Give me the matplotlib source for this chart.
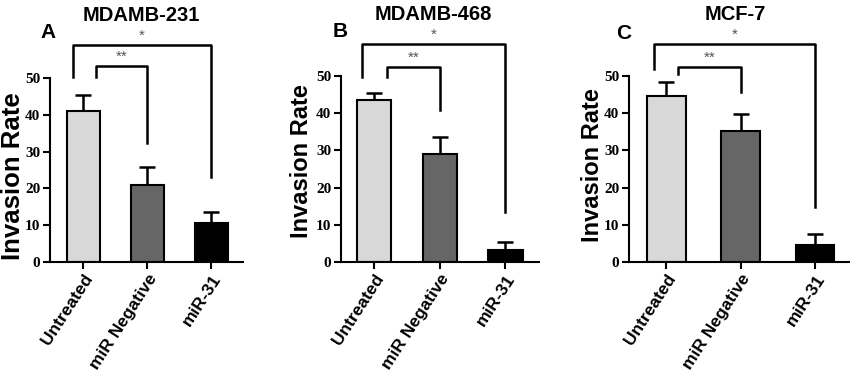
import matplotlib.pyplot as plt
import numpy as np

plt.rcParams['font.family'] = 'Liberation Sans'

groups = ['Untreated', 'miR Negative', 'miR-31']
colors = ['#d8d8d8', '#666666', '#000000']

titles = ['MDAMB-231', 'MDAMB-468', 'MCF-7']
letters = ['A', 'B', 'C']

## means and upper error (SD) per cell line
means_a = [41.0, 21.0, 10.7]
err_a = [4.3, 4.7, 2.9]
means_b = [43.5, 29.0, 3.2]
err_b = [2.0, 4.6, 2.1]
means_c = [44.6, 35.3, 4.5]
err_c = [3.7, 4.5, 3.0]

## significance brackets: (x1, x2, top, left end, right end, label)
brk_a = [(0.2, 1.0, 53.3, 50.3, 32.3, '**'), (-0.16, 2.0, 59.0, 50.3, 23.1, '*')]
brk_b = [(0.19, 1.0, 52.5, 49.7, 40.9, '**'), (-0.18, 2.0, 58.6, 49.7, 13.4, '*')]
brk_c = [(0.16, 1.0, 52.5, 50.5, 45.7, '**'), (-0.17, 2.0, 58.6, 52.0, 14.8, '*')]

means = [means_a, means_b, means_c]
errs = [err_a, err_b, err_c]
brks = [brk_a, brk_b, brk_c]

# axes boxes in figure fraction [left, bottom, width, height]
boxes = [[0.059, 0.307, 0.227, 0.487],
         [0.401, 0.307, 0.233, 0.492],
         [0.740, 0.307, 0.260, 0.492]]
xlims = [(-0.52, 2.5), (-0.51, 2.51), (-0.5, 2.47)]
# text placement in axes fraction
letter_xy = [(-0.05, 1.245), (-0.04, 1.24), (-0.06, 1.23)]
title_xy = [(0.47, 1.34), (0.465, 1.33), (0.48, 1.33)]
ylab_xy = [(-0.19, 0.467), (-0.197, 0.543), (-0.167, 0.52)]
ylab_size = [18.5, 17, 17]

fig = plt.figure(figsize=(8.5, 3.78), dpi=100)

for i in range(3):
    ax = fig.add_axes(boxes[i])
    x = np.arange(3)
    ax.bar(x, means[i], width=0.52, color=colors, edgecolor='black', linewidth=1.5, zorder=2)
    ax.errorbar(x, means[i], yerr=[np.zeros(3), errs[i]], fmt='none', ecolor='black',
                elinewidth=1.8, capsize=6, capthick=1.8, zorder=1)
    ax.set_xlim(*xlims[i])
    ax.set_ylim(0, 50)
    ax.set_yticks([0, 10, 20, 30, 40, 50])
    ax.set_yticklabels([str(v) for v in [0, 10, 20, 30, 40, 50]],
                       fontfamily='Liberation Serif', fontweight='bold', fontsize=11)
    ax.set_xticks(x)
    ax.set_xticklabels(groups, rotation=57, ha='right', rotation_mode='anchor',
                       fontweight='bold', fontsize=12.5)
    ax.tick_params(axis='both', direction='out', length=5, width=1.5, pad=2)
    ax.spines['top'].set_visible(False)
    ax.spines['right'].set_visible(False)
    ax.spines['left'].set_linewidth(1.5)
    ax.spines['bottom'].set_linewidth(1.5)
    ax.text(ylab_xy[i][0], ylab_xy[i][1], 'Invasion Rate', transform=ax.transAxes,
            rotation=90, ha='center', va='center', fontsize=ylab_size[i], fontweight='bold')

    for x1, x2, top, ly, ry, lab in brks[i]:
        ax.plot([x1, x1, x2, x2], [ly, top, top, ry], color='black', lw=1.8,
                clip_on=False)
        ax.text((x1 + x2) / 2, top + 0.6, lab, ha='center', va='bottom',
                fontsize=11, color='#555555', clip_on=False)

    ax.text(title_xy[i][0], title_xy[i][1], titles[i], transform=ax.transAxes,
            fontsize=14.5, fontweight='bold', ha='center', va='center')
    ax.text(letter_xy[i][0], letter_xy[i][1], letters[i], transform=ax.transAxes,
            fontsize=15, fontweight='bold', ha='left', va='center')

plt.savefig('out.png', dpi=100)
